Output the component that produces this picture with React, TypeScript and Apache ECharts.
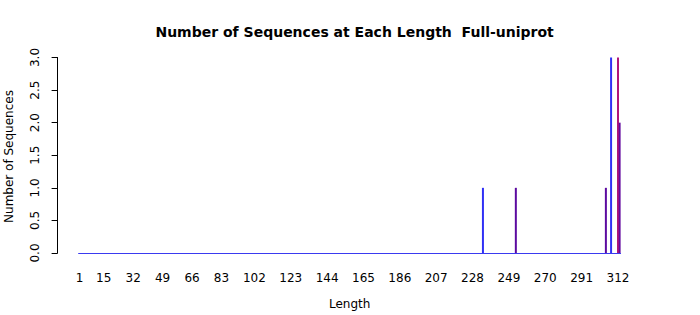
import React, { useEffect, useRef } from "react";
import * as echarts from "echarts";

// Sequence lengths shown on the category axis (1 .. 313)
const firstLength = 1;
const lastLength = 313;
// Lengths that have sequences, with their counts and bar colours
const barLengths = [234, 253, 305, 308, 312, 313];
const barCounts = [1, 1, 1, 3, 3, 2];
const barColors = ["#3030f5", "#5c0aa0", "#5c0aa0", "#3030f5", "#b0167a", "#62089e"];
// Tick labels that are printed under the axis
const tickLabels = [1, 15, 32, 49, 66, 83, 102, 123, 144, 165, 186, 207, 228, 249, 270, 291, 312];
const yTicks = [0, 0.5, 1, 1.5, 2, 2.5, 3];

const FONT = "DejaVu Sans";

export default function App() {
  const ref = useRef<HTMLDivElement>(null);
  useEffect(() => {
    document.body.style.margin = "0";
    const chart = echarts.init(ref.current!, null, { renderer: "svg" });
    const categories: string[] = [];
    for (let l = firstLength; l <= lastLength; l++) categories.push(String(l));
    const data = categories.map((c) => {
      const idx = barLengths.indexOf(Number(c));
      if (idx < 0) return { value: 0 };
      return { value: barCounts[idx], itemStyle: { color: barColors[idx] } };
    });
    chart.setOption({
      animation: false,
      backgroundColor: "#ffffff",
      title: {
        text: "Number of Sequences at Each Length  Full-uniprot",
        left: 349.6,
        textAlign: "center",
        top: 20,
        textStyle: { fontFamily: FONT, fontSize: 14, fontWeight: "bold", color: "#000" },
      },
      grid: { left: 78.6, right: 79.4, top: 57.5, bottom: 60, containLabel: false },
      xAxis: {
        type: "category",
        data: categories,
        axisLine: { show: true, lineStyle: { color: "#3a3af0", width: 1 } },
        axisTick: { show: false },
        axisLabel: {
          interval: (_i: number, v: string) => tickLabels.indexOf(Number(v)) >= 0,
          fontFamily: FONT,
          fontSize: 12,
          color: "#000",
          margin: 19,
        },
        name: "Length",
        nameLocation: "middle",
        nameGap: 45,
        nameTextStyle: { fontFamily: FONT, fontSize: 12, color: "#000" },
        splitLine: { show: false },
      },
      yAxis: {
        type: "value",
        min: 0,
        max: 3,
        interval: 0.5,
        offset: 21,
        axisLine: { show: true, lineStyle: { color: "#000", width: 1 } },
        axisTick: { show: true, length: 6, lineStyle: { color: "#000" } },
        axisLabel: {
          rotate: 90,
          margin: 17,
          fontFamily: FONT,
          fontSize: 12,
          color: "#000",
          formatter: (v: number) => (yTicks.indexOf(v) >= 0 ? v.toFixed(1) : ""),
        },
        splitLine: { show: false },
      },
      graphic: [
        {
          type: "text",
          x: 9,
          y: 156.5,
          rotation: Math.PI / 2,
          style: {
            text: "Number of Sequences",
            fontFamily: FONT,
            fontSize: 12,
            fill: "#000",
            align: "center",
            verticalAlign: "middle",
          },
        },
      ],
      series: [
        {
          type: "bar",
          data,
          barWidth: 2,
          itemStyle: { color: "#3030f5" },
        },
      ],
    });
    return () => chart.dispose();
  }, []);
  return <div ref={ref} style={{ width: 700, height: 315 }} />;
}
